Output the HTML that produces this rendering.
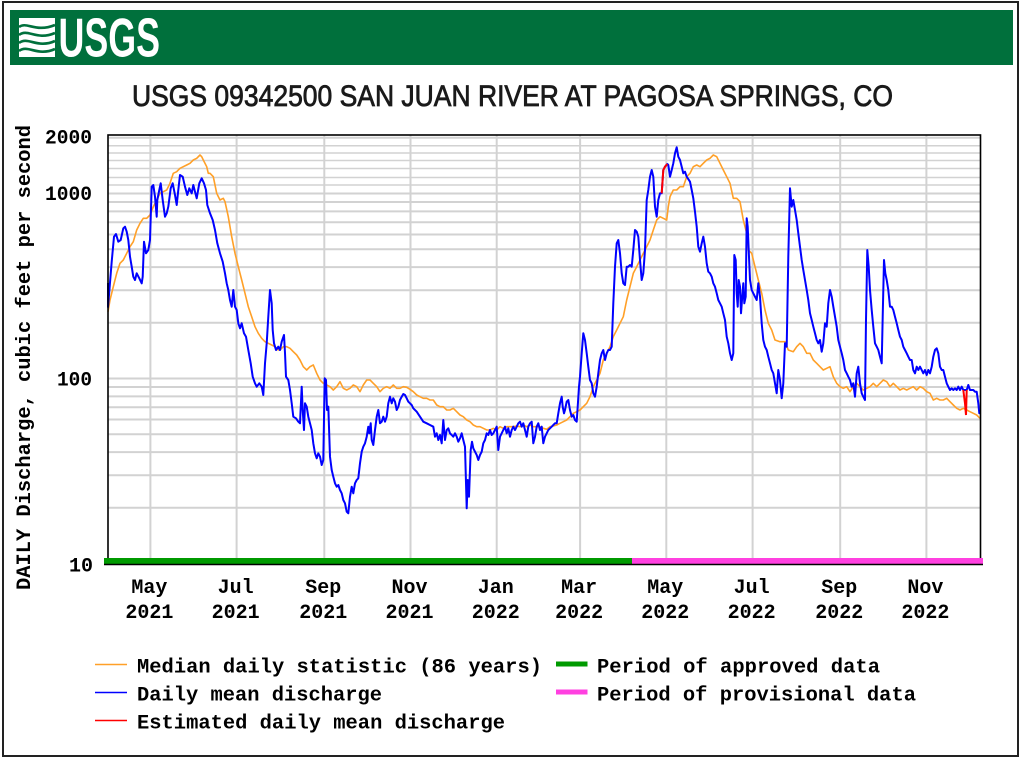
<!DOCTYPE html>
<html><head><meta charset="utf-8"><style>
html,body{margin:0;padding:0;background:#fff;}
svg{display:block;}
.mono{font-family:"Liberation Mono","DejaVu Sans Mono",monospace;font-weight:bold;font-size:20px;fill:#000;}
</style></head><body>
<svg width="1023" height="760" viewBox="0 0 1023 760" xmlns="http://www.w3.org/2000/svg">
<rect x="0" y="0" width="1023" height="760" fill="#fff"/>
<rect x="3" y="2" width="1015" height="754" fill="none" stroke="#222" stroke-width="2"/>
<!-- header -->
<rect x="10" y="10" width="1003" height="55" fill="#00703c"/>
<rect x="19" y="18" width="36" height="39" fill="#fff"/>
<g fill="none" stroke="#00703c" stroke-width="2.6">
<path d="M19,27 C27,21 35,33 55,25"/>
<path d="M19,35 C28,28 36,41 55,33"/>
<path d="M19,43 C28,36 37,49 55,41"/>
<path d="M19,51 C28,44 37,57 55,49"/>
</g>
<text x="58.5" y="56.5" font-family="Liberation Sans, Arial, sans-serif" font-weight="bold" font-size="55" fill="#fff" textLength="101.5" lengthAdjust="spacingAndGlyphs">USGS</text>
<!-- title -->
<text x="132" y="106" font-family="Liberation Sans, Arial, sans-serif" font-size="30" fill="#1a1a1a" stroke="#1a1a1a" stroke-width="0.8" textLength="761" lengthAdjust="spacingAndGlyphs">USGS 09342500 SAN JUAN RIVER AT PAGOSA SPRINGS, CO</text>
<!-- gridlines -->
<g stroke="#d2d2d2" stroke-width="2">
<line x1="108" x2="980.5" y1="507.8" y2="507.8"/>
<line x1="108" x2="980.5" y1="475.2" y2="475.2"/>
<line x1="108" x2="980.5" y1="452.1" y2="452.1"/>
<line x1="108" x2="980.5" y1="434.2" y2="434.2"/>
<line x1="108" x2="980.5" y1="419.5" y2="419.5"/>
<line x1="108" x2="980.5" y1="407.2" y2="407.2"/>
<line x1="108" x2="980.5" y1="396.4" y2="396.4"/>
<line x1="108" x2="980.5" y1="387.0" y2="387.0"/>
<line x1="108" x2="980.5" y1="378.5" y2="378.5"/>
<line x1="108" x2="980.5" y1="322.8" y2="322.8"/>
<line x1="108" x2="980.5" y1="290.2" y2="290.2"/>
<line x1="108" x2="980.5" y1="267.1" y2="267.1"/>
<line x1="108" x2="980.5" y1="249.2" y2="249.2"/>
<line x1="108" x2="980.5" y1="234.5" y2="234.5"/>
<line x1="108" x2="980.5" y1="222.2" y2="222.2"/>
<line x1="108" x2="980.5" y1="211.4" y2="211.4"/>
<line x1="108" x2="980.5" y1="202.0" y2="202.0"/>
<line x1="108" x2="980.5" y1="193.5" y2="193.5"/>
<line x1="108" x2="980.5" y1="137.8" y2="137.8"/>
<line x1="108" x2="980.5" y1="145.8" y2="145.8" stroke-width="1.5"/>
<line x1="108" x2="980.5" y1="153" y2="153" stroke-width="1.5"/>
<line x1="108" x2="980.5" y1="160.5" y2="160.5" stroke-width="1.5"/>
<line x1="108" x2="980.5" y1="168.5" y2="168.5" stroke-width="1.5"/>
<line x1="108" x2="980.5" y1="177.5" y2="177.5" stroke-width="1.5"/>
<line x1="108" x2="980.5" y1="185" y2="185" stroke-width="1.5"/>
<line y1="135" y2="563" x1="150.4" x2="150.4"/>
<line y1="135" y2="563" x1="236.6" x2="236.6"/>
<line y1="135" y2="563" x1="324.3" x2="324.3"/>
<line y1="135" y2="563" x1="410.5" x2="410.5"/>
<line y1="135" y2="563" x1="496.7" x2="496.7"/>
<line y1="135" y2="563" x1="580.1" x2="580.1"/>
<line y1="135" y2="563" x1="666.3" x2="666.3"/>
<line y1="135" y2="563" x1="752.6" x2="752.6"/>
<line y1="135" y2="563" x1="840.2" x2="840.2"/>
<line y1="135" y2="563" x1="926.4" x2="926.4"/>
</g>
<!-- median -->
<polyline fill="none" stroke="#ffa028" stroke-width="1.6" stroke-linejoin="round" points="108,311.7 110,300 113.3,286.7 116.7,273.3 120,263.3 123.3,260 126.7,253.3 130,246.7 133.3,241.7 136.7,230 140,223.3 143.3,218.3 146.7,218.3 150,215 153.3,206.7 156.7,200 160,193.3 163.3,191.7 166.7,190 170,183.3 173.3,173.3 176.7,171.7 180,168.3 183.3,166.7 186.7,165 190,163.3 193.3,160 196.7,158.3 200,155 201.7,156.7 203.3,160 206.7,166.7 208.3,173.3 210,173.3 213.3,176.7 216.7,193.3 220,200 223.3,198.3 225,201.7 228.3,216.7 231.7,236.7 235,253.3 238.3,266.7 241.7,280 245,293.3 248.3,306.7 251.7,316.7 255,326.7 258.3,333.3 261.7,338.3 265,341.7 268.3,343.3 271.7,345 275,346.7 278.3,350 280,350 283.3,346.7 286.7,346.7 290,348.3 293.3,351.7 296.7,355 300,360 303.3,366.7 306.7,370 310,366.7 313.3,365 316.7,373.3 320,380 323.3,383.3 326.7,385 330,386.7 333.3,390 336.7,386.7 340,381.7 343.3,388.3 346.7,390 350,388.3 353.3,385 356.7,386.7 360,391.7 363.3,385 366.7,380 370,380 373.3,383.3 376.7,386.7 380,391.7 383.3,388.3 386.7,386.7 390,388.3 393.3,385 396.7,388.3 400,388.3 403.3,386.7 406.7,387.3 410,389.3 413.3,391.7 416.7,395 420,396.7 423.3,398.3 426.7,398.3 430,400 433.3,400 436.7,405 440,406.7 443.3,406.7 446.7,410 450,410 453.3,408.3 456.7,411.7 460,415 463.3,416.7 466.7,420 470,421.7 473.3,425 476.7,426.7 480,426.7 483.3,428.3 486.7,430 490,430 493.3,428.3 496.7,430 500,426.7 503.3,428.3 506.7,426.7 510,426.7 513.3,426.7 516.7,426 520,426.7 523.3,425 526.7,426.7 530,425 533.3,426.7 536.7,426.7 540,426.7 543.3,428.3 546.7,429.3 550,426.7 553.3,426 556.7,425 560,423.3 563.3,421.7 566.7,420 570,416.7 573.3,413.3 576.7,411.7 580,410 583.3,406.7 586.7,403.3 590,396.7 593.3,386.7 596.7,380 600,373.3 603.3,360 606.7,353.3 610,346.7 613.3,336.7 616.7,330 620,323.3 623.3,316.7 626.7,300 630,286.7 633.3,273.3 636.7,266.7 640,260 643.3,253.3 646.7,246.7 650,240 653.3,230 656.7,220 660,216.7 663.3,218.3 666.7,220 668.3,206.7 670,196.7 673.3,190 676.7,190 680,186.7 683.3,186.7 686.7,176.7 690,173.3 693.3,166.7 696.7,165 700,166.7 703.3,163.3 706.7,160 710,158.3 713.3,155 716.7,156.7 720,163.3 723.3,170 726.7,176.7 730,183.3 733.3,198.3 736.7,198.3 740,201.7 743.3,220 746.7,233.3 748.3,250 751.7,253.3 755,266.7 758.3,280 761.7,293.3 765,310 768.3,323.3 771.7,330 775,340 780,341.7 785,341.7 788.3,350 793.3,351.7 796.7,346.7 800,343.3 803.3,346.7 806.7,353.3 810,353.3 813.3,360 816.7,363.3 820,366.7 823.3,370 826.7,368.3 830,366.7 833.3,376.7 836.7,383.3 840,386.7 843.3,388.3 846.7,386.7 850,391.7 853.3,386.7 856.7,383.3 860,386.7 863.3,390 866.7,388.3 870,386.7 873.3,383.3 876.7,386.7 880,383.3 883.3,380 886.7,381.7 890,386.7 893.3,383.3 896.7,386.7 900,390 903.3,388.3 906.7,390 910,388.3 913.3,386.7 916.7,390 920,386.7 923.3,388.3 926.7,391.7 930,393.3 933.3,400 936.7,398.3 940,400 943.3,400 946.7,398.3 950,401.7 953.3,405 956.7,408.3 960,410 963.3,408.3 966.7,410 970,411.7 973.3,413.3 976.7,415 980,418.3"/>
<!-- daily mean -->
<polyline fill="none" stroke="#0000ff" stroke-width="2" stroke-linejoin="round" points="108,283 108,307 111.7,261.7 114,236.7 116,234 118.3,241.7 120.7,240 123.3,228.3 125,226.7 126.7,231.7 128.3,240 130,256.7 131.7,266.7 133.3,276.7 135,280 136.7,273.3 139.3,278.3 141.7,283.3 142.7,276.7 144,241.7 146,253.3 148.3,250 150,240 151.7,186.7 153.3,185 155,196.7 156.7,216.7 157.3,200 159.3,190 160.7,183.3 162.7,200 165,216.7 166.7,213.3 168.3,206.7 170.7,188.3 172.7,183.3 175,195 176.7,205 178.3,190 180,175 182.7,176.7 185,186.7 187.3,195 189.3,188.3 191.7,193.3 193.3,185 195,191.7 196.7,198.3 199.3,183.3 201.7,178.3 204,183.3 206,190 207.3,205 210,213.3 212.7,220 215,230 217.3,243.3 220,253.3 222.7,261.7 225,273.3 226.7,283.3 228.3,290 230,300 231.7,306.7 233.3,290 235,306.7 236.7,310 238.3,323.3 240,328.3 241.7,323.3 244,333.3 246,336.7 248.3,350 250.7,363.3 252.7,376.7 255,383.3 256.7,386.7 259.3,383.3 261.7,386.7 263.3,395 265,363.3 266.7,343.3 268.3,316.7 270,290 271.7,303.3 272.7,330 274,343.3 276,350 278.3,346.7 280,350 281.7,341.7 284,335 285,353 286,376.7 288.3,380 290,390 291.7,403.3 293.3,416.7 296,418.3 298.3,421.7 300,423.3 301.7,386.7 302.7,410 304,430 305,403.3 306.7,406.7 308.3,416.7 310,423.3 311.7,430 313.3,443.3 315,453.3 316.7,458.3 318.3,453.3 320,456.7 321.7,465 323.3,460 324.7,378.3 326,380 327,410 328.3,406.7 330,456.7 331.7,470 333.3,476.7 335,483.3 336.7,486.7 338.3,485 340,490 341.7,493.3 343.3,500 345,503.3 346.7,511.7 348.3,513.3 350,496.7 351.7,486.7 353.3,493.3 355,483.3 356.7,480 358.3,478.3 360,463.3 361.7,451.7 363.3,446.7 365,443.3 366.7,436.7 368.3,426.7 369.3,433.3 370.7,423.3 371.7,440 373.3,445 375,430 376.7,416.7 378.3,410 380,423.3 381.7,421.7 383.3,416.7 385,421.7 386.7,416.7 388.3,403.3 390,396.7 391.7,403.3 393.3,398.3 395,401.7 396.7,410 398.3,406.7 400,400 401.7,396.7 403.3,394 405,395 406.7,398.3 408.3,401.7 410,403.3 411.7,405 413.3,408.3 416.7,411.7 420,416.7 423.3,421.7 426.7,423.3 430,425 433.3,426.7 435,436.7 436.7,433.3 438.3,440 440,435 441.7,443.3 443.3,420 445,440 446.7,430 448.3,428.3 450,433.3 451.7,435 453.3,436.7 455,433.3 456.7,436.7 458.3,441.7 460,438.3 461.7,433.3 463.3,440 465,446.7 466.7,508.3 467.7,480 469,496.7 470.7,450 472,441.7 473.3,448.3 475,451.7 476.7,455 478.3,460 480,455 481.7,451.7 483.3,443.3 485,440 486.7,433.3 488.3,435 490,430 491.7,435 493.3,433.3 495,430 496.7,426.7 498.3,450 500,436.7 501.7,433.3 503.3,430 505,426.7 506.7,433.3 508.3,428.3 510,436.7 511.7,430 513.3,426.7 515,430 516.7,426.7 518.3,423.3 520,421.7 521.7,426.7 523.3,423.3 525,430 526.7,436.7 528.3,426.7 530,423.3 531.7,421.7 533.3,443.3 535,436.7 536.7,426.7 538.3,423.3 540,430 541.7,426.7 543.3,443.3 545,436.7 546.7,433.3 548.3,430 550,428.3 551.7,426.7 553.3,425 555,423.3 556.7,423.3 558.3,413.3 560,403.3 561.7,396.7 562.7,406.7 564,413.3 565,410 566.7,401.7 568.3,400 570,410 571.7,416.7 573.3,415 575,420 576.7,421.7 577.7,406.7 579,386.7 580,376.7 581.7,353.3 583.3,333.3 585,340 586.7,353.3 588.3,366.7 590,380 591.7,383.3 593.3,393.3 595,396.7 596.7,386.7 598.3,373.3 600,360 601.7,353.3 603.3,350 605,360 606.7,353.3 608.3,350 610,350 611.7,346.7 613.3,303.3 615,266.7 616.7,243.3 618.3,240 620,253.3 621.7,273.3 623.3,283.3 625,285 626.7,266.7 628.3,266.7 630,265 631.7,266.7 633.3,250 635,230 636.7,231.7 638.3,236.7 640,260 641.7,280 643.3,273.3 645,250 646.7,200 648.3,190 650,176.7 651.7,170 653.3,176.7 655,206.7 656.7,216.7 658.3,200 660,193.3 661.7,193.3 663.3,170 665,166.7 667.3,164 668.3,165 670,176.7 671.7,170 673.3,163.3 675,153.3 676.7,147.3 678.3,156.7 680,160 681.7,166.7 683.3,173.3 685,171.7 686.7,176.7 690,181.7 691.7,190 693.3,198.3 695,211.7 696.7,226.7 698.3,246.7 700,251.7 701.7,243.3 703.3,236.7 705,246.7 706.7,263.3 708.3,271.7 710,273.3 711.7,276.7 713.3,283.3 715,286.7 716.7,293.3 718.3,300 720,303.3 721.7,306.7 723.3,313.3 725,320 726.7,336.7 728.3,343.3 730,353.3 731.7,360 733.3,353.3 734.3,255 735.7,260 736.7,293.3 737.7,306.7 738.7,280 740,286.7 741,313.3 742,300 743.3,283.3 744.3,303.3 745.7,296.7 746.7,218.3 747.7,226.7 748.7,250 750,280 751.7,290 753.3,293.3 755,296.7 756.7,300 758.3,283.3 760,296.7 761.7,323.3 763.3,340 765,346.7 766.7,350 768.3,356.7 770,363.3 771.7,370 773.3,373.3 775,383.3 776.7,393.3 778.3,370 780,380 781.7,398.3 783.3,383.3 785,343.3 786.7,346.7 788.3,256.7 790,188.3 791.7,206.7 793.3,200 795,210 796.7,220 798.3,233.3 800,246.7 801.7,260 803.3,270 805,280 806.7,290 808.3,300 810,313.3 811.7,320 813.3,326.7 815,333.3 816.7,340 818.3,343.3 820,340 821.7,351.7 823.3,343.3 825,323.3 826.7,326.7 828.3,303.3 830,290 831.7,296.7 833.3,306.7 835,316.7 836.7,326.7 838.3,340 840,346.7 841.7,353.3 843.3,360 845,370 846.7,373.3 848.3,376.7 850,380 851.7,386.7 853.3,383.3 855,396.7 856.7,373.3 858.3,366.7 860,383.3 861.7,393.3 863.3,396.7 865,400 866,320 867.3,250 868.7,266.7 870,290 871.7,310 873.3,326.7 875,343.3 876.7,346.7 878.3,350 880,356.7 881.7,363.3 882.7,316.7 884,260 885.3,273.3 886.7,280 888.3,290 890,306.7 891.7,306.7 893.3,310 895,316.7 896.7,323.3 898.3,330 900,336.7 901.7,340 903.3,346.7 905,350 906.7,353.3 908.3,356.7 910,360 911.7,360 913.3,370 915,373.3 916.7,366.7 918.3,370 920,366.7 921.7,370 923.3,373.3 925,370 926.7,375 928.3,370 930,373.3 931.7,366.7 933.3,356.7 935,350 936.7,348.3 938.3,353.3 940,366.7 941.7,370 943.3,370 945,376.7 946.7,383.3 948.3,386.7 950,390 951.7,388.3 953.3,390 955,388.3 956.7,390 958.3,386.7 960,390 961.7,386.7 963.3,390 966.7,390 968.3,385 970,390 973.3,390 975,391.7 976.7,391.7 978.3,403.3 979.3,413.3 980,410"/>
<!-- estimated -->
<polyline fill="none" stroke="#ff0000" stroke-width="2" points="661.7,193.3 663.3,170 665,166.7 667.3,164"/>
<polyline fill="none" stroke="#ff0000" stroke-width="2" points="963.3,390 965,403.3 966,415 966.7,390"/>
<!-- frame -->
<rect x="108" y="135" width="872.5" height="429" fill="none" stroke="#000" stroke-width="1.6"/>
<!-- approval bars -->
<rect x="104" y="558" width="528" height="6" fill="#009a00"/>
<rect x="632" y="558" width="351" height="6" fill="#ff40e0"/>
<line x1="104" x2="983" y1="564.5" y2="564.5" stroke="#000" stroke-width="1.5"/>
<!-- y tick labels -->
<text class="mono" x="92" y="143.5" text-anchor="end" textLength="47" lengthAdjust="spacingAndGlyphs">2000</text>
<text class="mono" x="92" y="200" text-anchor="end" textLength="47" lengthAdjust="spacingAndGlyphs">1000</text>
<text class="mono" x="92" y="385.5" text-anchor="end" textLength="35" lengthAdjust="spacingAndGlyphs">100</text>
<text class="mono" x="93" y="571.5" text-anchor="end" textLength="24" lengthAdjust="spacingAndGlyphs">10</text>
<!-- y axis title -->
<text class="mono" transform="translate(30,357.5) rotate(-90)" x="0" y="0" text-anchor="middle" textLength="465" lengthAdjust="spacingAndGlyphs">DAILY Discharge, cubic feet per second</text>
<!-- x labels -->
<g class="mono" text-anchor="middle">
<text class="mono" x="149.4" y="593" text-anchor="middle">May</text><text class="mono" x="149.4" y="618" text-anchor="middle">2021</text>
<text class="mono" x="235.6" y="593" text-anchor="middle">Jul</text><text class="mono" x="235.6" y="618" text-anchor="middle">2021</text>
<text class="mono" x="323.3" y="593" text-anchor="middle">Sep</text><text class="mono" x="323.3" y="618" text-anchor="middle">2021</text>
<text class="mono" x="409.5" y="593" text-anchor="middle">Nov</text><text class="mono" x="409.5" y="618" text-anchor="middle">2021</text>
<text class="mono" x="495.7" y="593" text-anchor="middle">Jan</text><text class="mono" x="495.7" y="618" text-anchor="middle">2022</text>
<text class="mono" x="579.1" y="593" text-anchor="middle">Mar</text><text class="mono" x="579.1" y="618" text-anchor="middle">2022</text>
<text class="mono" x="665.3" y="593" text-anchor="middle">May</text><text class="mono" x="665.3" y="618" text-anchor="middle">2022</text>
<text class="mono" x="751.6" y="593" text-anchor="middle">Jul</text><text class="mono" x="751.6" y="618" text-anchor="middle">2022</text>
<text class="mono" x="839.2" y="593" text-anchor="middle">Sep</text><text class="mono" x="839.2" y="618" text-anchor="middle">2022</text>
<text class="mono" x="925.4" y="593" text-anchor="middle">Nov</text><text class="mono" x="925.4" y="618" text-anchor="middle">2022</text>
</g>
<!-- legend -->
<line x1="95" x2="127" y1="664.5" y2="664.5" stroke="#ffa028" stroke-width="1.5"/>
<line x1="95" x2="127" y1="692.5" y2="692.5" stroke="#0000ff" stroke-width="1.5"/>
<line x1="95" x2="127" y1="720.5" y2="720.5" stroke="#ff0000" stroke-width="1.5"/>
<text class="mono" x="137" y="672.5" textLength="405" lengthAdjust="spacingAndGlyphs">Median daily statistic (86 years)</text>
<text class="mono" x="137" y="700.5" textLength="245" lengthAdjust="spacingAndGlyphs">Daily mean discharge</text>
<text class="mono" x="137" y="728.5" textLength="368" lengthAdjust="spacingAndGlyphs">Estimated daily mean discharge</text>
<rect x="556" y="661.5" width="31.5" height="5" fill="#009a00"/>
<rect x="556" y="689.5" width="31.5" height="5" fill="#ff40e0"/>
<text class="mono" x="597" y="672.5" textLength="283" lengthAdjust="spacingAndGlyphs">Period of approved data</text>
<text class="mono" x="597" y="700.5" textLength="319" lengthAdjust="spacingAndGlyphs">Period of provisional data</text>
</svg>
</body></html>
